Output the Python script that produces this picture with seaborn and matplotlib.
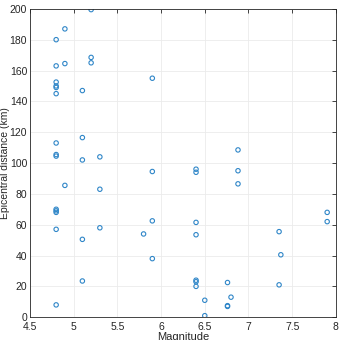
import numpy as np
import pandas as pd
import matplotlib
matplotlib.use('Agg')
import matplotlib.pyplot as plt
import seaborn as sns

# magnitude vs epicentral distance
magnitude = [4.8, 4.8, 4.8, 4.8, 4.8, 4.8, 4.8, 4.8, 4.8, 4.8, 4.8, 4.8, 4.8, 4.8,
             4.9, 4.9, 4.9,
             5.1, 5.1, 5.1, 5.1, 5.1,
             5.2, 5.2, 5.2,
             5.3, 5.3, 5.3,
             5.8,
             5.9, 5.9, 5.9, 5.9,
             6.4, 6.4, 6.4, 6.4, 6.4, 6.4, 6.4,
             6.5, 6.5,
             6.76, 6.76, 6.76, 6.8,
             6.88, 6.88, 6.88,
             7.35, 7.35, 7.37,
             7.9, 7.9]
distance = [180, 163, 152.5, 150, 149, 145, 113, 105.5, 104.5, 70, 69, 68, 57, 8,
            187, 164.5, 85.5,
            147, 116.5, 102, 50.5, 23.5,
            199.5, 168.5, 165,
            104, 83, 58,
            54,
            155, 94.5, 62.5, 38,
            96, 94, 61.5, 53.5, 24, 23, 20,
            11, 1,
            22.5, 7.5, 7, 13,
            108.5, 95, 86.5,
            55.5, 21, 40.5,
            68, 62]

df = pd.DataFrame({'Magnitude': magnitude, 'dist': distance})

sns.set_style('white')
plt.rcParams['font.family'] = ['Liberation Sans', 'DejaVu Sans']

fig = plt.figure(figsize=(3.4, 3.4), dpi=100)
ax = fig.add_axes([0.088, 0.067, 0.9, 0.907])

sns.scatterplot(data=df, x='Magnitude', y='dist', ax=ax, marker='o',
                facecolors='none', edgecolor='#2f86c8', linewidth=0.8, s=10)

ax.set_xlim(4.5, 8)
ax.set_ylim(0, 200)
ax.set_xticks(np.arange(4.5, 8.01, 0.5))
ax.set_xticklabels(['4.5', '5', '5.5', '6', '6.5', '7', '7.5', '8'])
ax.set_yticks(np.arange(0, 201, 20))
ax.grid(True, color='#ebebeb', linewidth=0.6)
ax.set_axisbelow(True)
ax.tick_params(direction='in', length=3, width=0.6, top=True, right=True,
               labelsize=7.5, colors='#262626', pad=2)
ax.tick_params(axis='x', pad=3.5)
for s in ax.spines.values():
    s.set_color('#262626')
    s.set_linewidth(0.6)
ax.set_xlabel('Magnitude', fontsize=8, color='#262626', labelpad=0)
ax.set_ylabel('Epicentral distance (km)', fontsize=7.5, color='#262626')
ax.yaxis.set_label_coords(-0.066, 0.5)

fig.savefig('out.png', dpi=100)
